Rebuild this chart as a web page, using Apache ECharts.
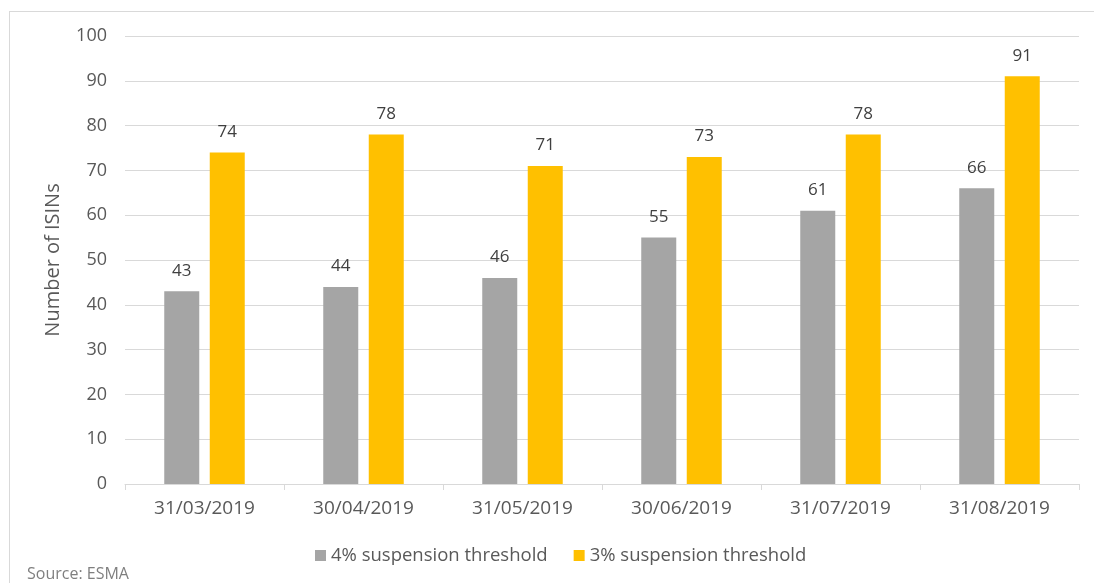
<!DOCTYPE html>
<html>
<head>
<meta charset="utf-8">
<script src="https://cdn.jsdelivr.net/npm/echarts@6/dist/echarts.min.js"></script>
<style>
  html, body { margin: 0; padding: 0; background: #fff; }
  #frame { position: absolute; left: 9px; top: 11px; width: 1100px; height: 600px; border: 1px solid #d9d9d9; box-sizing: border-box; }
  #main { position: absolute; left: 0; top: 0; width: 1094px; height: 583px; }
</style>
</head>
<body>
<div id="frame"></div>
<div id="main"></div>
<script>
var dates = ['31/03/2019', '30/04/2019', '31/05/2019', '30/06/2019', '31/07/2019', '31/08/2019'];
var threshold4 = [43, 44, 46, 55, 61, 66];
var threshold3 = [74, 78, 71, 73, 78, 91];
var yTicks = [0, 100, 10];   // min, max, interval

var font = '"Open Sans", Lato, sans-serif';
var txt = '#595959';

var chartDom = document.getElementById('main');
var myChart = echarts.init(chartDom);
var option;

option = {
    textStyle: { fontFamily: font },
    animation: false,
    graphic: [{
        type: 'text',
        left: 27,
        top: 566,
        style: { text: 'Source: ESMA', fill: '#7f7f7f', font: '16px ' + font }
    }],
    legend: {
        bottom: 13,
        left: 310,
        itemWidth: 11,
        itemHeight: 11,
        itemGap: 26,
        icon: 'rect',
        textStyle: { color: txt, fontSize: 18.5, fontFamily: font },
        data: ['4% suspension threshold', '3% suspension threshold']
    },
    grid: {
        left: 125,
        right: 15,
        top: 36,
        bottom: 99
    },
    xAxis: {
        type: 'category',
        data: dates,
        axisLine: { lineStyle: { color: '#d9d9d9', width: 1 } },
        axisTick: { show: true, length: 6, lineStyle: { color: '#d9d9d9' } },
        axisLabel: { color: txt, fontSize: 19, margin: 15, fontFamily: font }
    },
    yAxis: {
        type: 'value',
        min: yTicks[0],
        max: yTicks[1],
        interval: yTicks[2],
        name: 'Number of ISINs',
        nameLocation: 'middle',
        nameGap: 62,
        nameTextStyle: { color: txt, fontSize: 20, fontFamily: font },
        axisLine: { show: false },
        axisTick: { show: false },
        axisLabel: { color: txt, fontSize: 18, margin: 18, fontFamily: font },
        splitLine: { lineStyle: { color: '#d9d9d9', width: 1 } }
    },
    series: [
        {
            name: '4% suspension threshold',
            type: 'bar',
            barWidth: 35,
            barGap: '30%',
            data: threshold4,
            itemStyle: { color: '#a5a5a5' },
            label: { show: true, position: 'top', distance: 12, color: '#404040', fontSize: 17, fontFamily: font }
        },
        {
            name: '3% suspension threshold',
            type: 'bar',
            barWidth: 35,
            data: threshold3,
            itemStyle: { color: '#ffc000' },
            label: { show: true, position: 'top', distance: 12, color: '#404040', fontSize: 17, fontFamily: font }
        }
    ]
};

option && myChart.setOption(option);
</script>
</body>
</html>
